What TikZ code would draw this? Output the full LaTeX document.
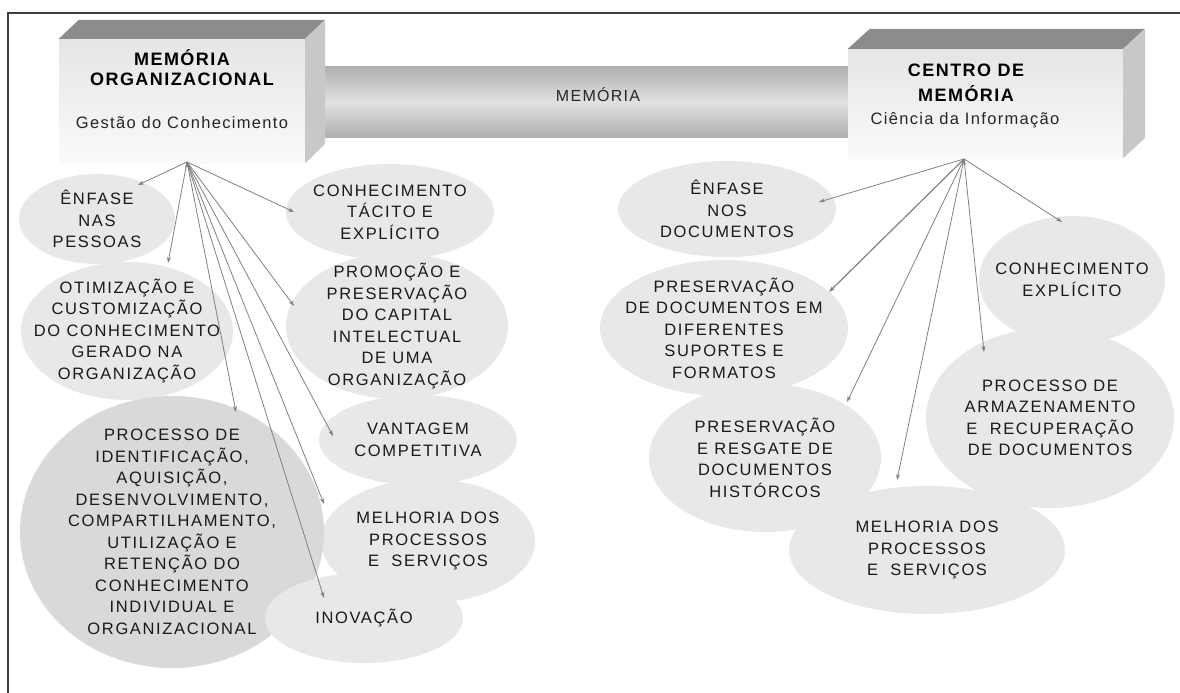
\documentclass[tikz,border=0pt]{standalone}
\usepackage{fontspec}
\setmainfont{Liberation Sans}
\newfontfamily\titlefont[LetterSpace=8]{Liberation Sans}
\newfontfamily\bubblefont[LetterSpace=10]{Liberation Sans}
\usepackage{xcolor}
\usepackage{tikz}
\usetikzlibrary{positioning, shapes.geometric, arrows.meta}
\definecolor{bubblegray}{HTML}{E8E8E8}
\definecolor{bubbledark}{HTML}{D9D9D9}
\definecolor{boxtop}{HTML}{8C8C8C}
\definecolor{boxside}{HTML}{C8C8C8}
\definecolor{linegray}{HTML}{808080}

\begin{document}
\begin{tikzpicture}[x=1pt,y=-1pt]
	\tikzstyle{bubble}=[ellipse, fill=bubblegray, inner sep=-30pt, align=center, text=black!90, font=\bubblefont\fontsize{16.5}{21.5}\selectfont]
	\tikzstyle{front}=[rectangle, inner sep=0pt, top color=gray!20, bottom color=gray!4]
	\tikzstyle{boxtitle}=[align=center, text=black, font=\titlefont\bfseries\fontsize{18}{20}\selectfont]
	\tikzstyle{boxsub}=[text=black!85, font=\titlefont\fontsize{16.5}{20}\selectfont]
	\tikzstyle{pointer}=[draw=linegray, line width=0.8pt, -{Stealth[length=6pt,width=4pt]}]

	\useasboundingbox (0,0) rectangle (1180,693);
	\draw[line width=1.4pt, black!75] (8,693) -- (8,13) -- (1180,13);

	\node[rectangle, inner sep=0pt, minimum width=523pt, minimum height=70pt, top color=gray!62, bottom color=gray!62, middle color=gray!24] (bar) at (586.5,102) {};
	\node[boxsub, font=\titlefont\fontsize{16}{20}\selectfont] (barlabel) at (598,95) {MEMÓRIA};

	\node[front, minimum width=246pt, minimum height=124pt] (moface) at (182,101) {};
	\fill[boxtop] (moface.north west) -- ++(20,-19) -- ++(246,0) -- (moface.north east) -- cycle;
	\fill[boxside] (moface.north east) -- ++(20,-19) -- ++(0,124) -- (moface.south east) -- cycle;
	\node[boxtitle] (motitle) at (182,68) {MEMÓRIA\\ORGANIZACIONAL};
	\node[boxsub] (mosub) at (182,123) {Gestão do Conhecimento};

	\node[front, minimum width=275pt, minimum height=109pt] (cmface) at (985.5,103.5) {};
	\fill[boxtop] (cmface.north west) -- ++(22,-20) -- ++(275,0) -- (cmface.north east) -- cycle;
	\fill[boxside] (cmface.north east) -- ++(22,-20) -- ++(0,109) -- (cmface.south east) -- cycle;
	\node[boxtitle, font=\titlefont\bfseries\fontsize{18}{25}\selectfont] (cmtitle) at (966,82.5) {CENTRO DE\\MEMÓRIA};
	\node[boxsub] (cmsub) at (965,120) {Ciência da Informação};

	\node[bubble, minimum width=156pt, minimum height=90pt] (enfase) at (97,219) {ÊNFASE\\NAS\\PESSOAS};
	\node[bubble, minimum width=208pt, minimum height=96pt] (tacito) at (390,212) {CONHECIMENTO\\TÁCITO E\\EXPLÍCITO};
	\node[bubble, minimum width=222pt, minimum height=146pt] (promocao) at (397,326) {PROMOÇÃO E\\PRESERVAÇÃO\\DO CAPITAL\\INTELECTUAL\\DE UMA\\ORGANIZAÇÃO};
	\node[bubble, minimum width=212pt, minimum height=138pt] (otimizacao) at (127,331) {OTIMIZAÇÃO E\\CUSTOMIZAÇÃO\\DO CONHECIMENTO\\GERADO NA\\ORGANIZAÇÃO};
	\node[bubble, minimum width=198pt, minimum height=90pt] (vantagem) at (418,440) {VANTAGEM\\COMPETITIVA};
	\node[bubble, minimum width=214pt, minimum height=124pt] (melhoria) at (428,541) {MELHORIA DOS\\PROCESSOS\\E\ \ SERVIÇOS};
	\node[bubble, fill=bubbledark, minimum width=304pt, minimum height=272pt] (processo) at (172,532) {PROCESSO DE\\IDENTIFICAÇÃO,\\AQUISIÇÃO,\\DESENVOLVIMENTO,\\COMPARTILHAMENTO,\\UTILIZAÇÃO E\\RETENÇÃO DO\\CONHECIMENTO\\INDIVIDUAL E\\ORGANIZACIONAL};
	\node[bubble, minimum width=198pt, minimum height=90pt] (inovacao) at (364,618) {INOVAÇÃO};

	\node[bubble, minimum width=218pt, minimum height=96pt] (enfasedoc) at (727,209) {ÊNFASE\\NOS\\DOCUMENTOS};
	\node[bubble, minimum width=248pt, minimum height=136pt] (suportes) at (724,328) {PRESERVAÇÃO\\DE DOCUMENTOS EM\\DIFERENTES\\SUPORTES E\\FORMATOS};
	\node[bubble, minimum width=232pt, minimum height=148pt] (resgate) at (765,458) {PRESERVAÇÃO\\E RESGATE DE\\DOCUMENTOS\\HISTÓRCOS};
	\node[bubble, minimum width=186pt, minimum height=128pt] (explicito) at (1072,280) {CONHECIMENTO\\EXPLÍCITO};
	\node[bubble, minimum width=248pt, minimum height=180pt] (armazenamento) at (1050,418) {PROCESSO DE\\ARMAZENAMENTO\\E\ \ RECUPERAÇÃO\\DE DOCUMENTOS};
	\node[bubble, minimum width=276pt, minimum height=128pt] (melhoriadoc) at (927,550) {MELHORIA DOS\\PROCESSOS\\E\ \ SERVIÇOS};

	\coordinate (mofoot) at (187,162);
	\coordinate (enfase in) at (138,185);
	\coordinate (otimizacao in) at (168,263);
	\coordinate (processo in) at (236,412);
	\coordinate (tacito in) at (294,212);
	\coordinate (promocao in) at (294,306);
	\coordinate (vantagem in) at (333,436);
	\coordinate (melhoria in) at (324,504);
	\coordinate (inovacao in) at (324,598);

	\coordinate (cmfoot) at (964,159);
	\coordinate (enfasedoc in) at (819,202);
	\coordinate (suportes in) at (829,292);
	\coordinate (resgate in) at (847,402);
	\coordinate (melhoriadoc in) at (897,480);
	\coordinate (armazenamento in) at (984,352);
	\coordinate (explicito in) at (1062,222);

	\path[pointer]
		(mofoot) edge (enfase in)
		(mofoot) edge (otimizacao in)
		(mofoot) edge (processo in)
		(mofoot) edge (tacito in)
		(mofoot) edge (promocao in)
		(mofoot) edge (vantagem in)
		(mofoot) edge (melhoria in)
		(mofoot) edge (inovacao in);
	\path[pointer]
		(cmfoot) edge (enfasedoc in)
		(cmfoot) edge[line width=1.2pt] (suportes in)
		(cmfoot) edge (resgate in)
		(cmfoot) edge (melhoriadoc in)
		(cmfoot) edge (armazenamento in)
		(cmfoot) edge (explicito in);
\end{tikzpicture}
\end{document}
